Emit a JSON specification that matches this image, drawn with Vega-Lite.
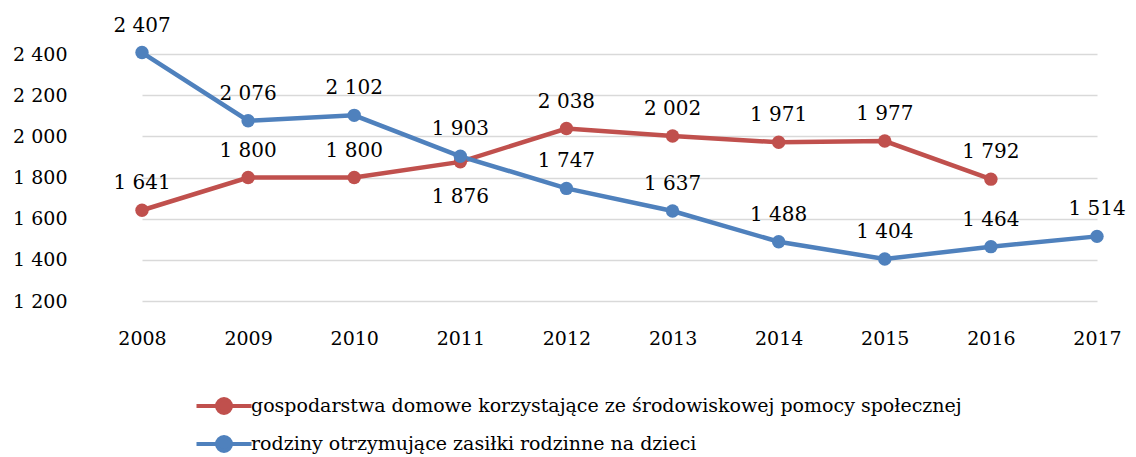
{
  "$schema": "https://vega.github.io/schema/vega-lite/v6.json",
  "width": 1047,
  "height": 247,
  "autosize": {"type": "none"},
  "padding": {"left": 89, "top": 54, "right": 0, "bottom": 156},
  "config": {
    "locale": {"number": {"decimal": ",", "thousands": " ", "grouping": [3], "currency": ["", " zł"]}},
    "view": {"stroke": null},
    "font": "DejaVu Serif"
  },
  "data": {
    "values": [
      {"year": "2008", "series": "gospodarstwa domowe korzystające ze środowiskowej pomocy społecznej", "value": 1641},
      {"year": "2009", "series": "gospodarstwa domowe korzystające ze środowiskowej pomocy społecznej", "value": 1800},
      {"year": "2010", "series": "gospodarstwa domowe korzystające ze środowiskowej pomocy społecznej", "value": 1800},
      {"year": "2011", "series": "gospodarstwa domowe korzystające ze środowiskowej pomocy społecznej", "value": 1876},
      {"year": "2012", "series": "gospodarstwa domowe korzystające ze środowiskowej pomocy społecznej", "value": 2038},
      {"year": "2013", "series": "gospodarstwa domowe korzystające ze środowiskowej pomocy społecznej", "value": 2002},
      {"year": "2014", "series": "gospodarstwa domowe korzystające ze środowiskowej pomocy społecznej", "value": 1971},
      {"year": "2015", "series": "gospodarstwa domowe korzystające ze środowiskowej pomocy społecznej", "value": 1977},
      {"year": "2016", "series": "gospodarstwa domowe korzystające ze środowiskowej pomocy społecznej", "value": 1792},
      {"year": "2008", "series": "rodziny otrzymujące zasiłki rodzinne na dzieci", "value": 2407},
      {"year": "2009", "series": "rodziny otrzymujące zasiłki rodzinne na dzieci", "value": 2076},
      {"year": "2010", "series": "rodziny otrzymujące zasiłki rodzinne na dzieci", "value": 2102},
      {"year": "2011", "series": "rodziny otrzymujące zasiłki rodzinne na dzieci", "value": 1903},
      {"year": "2012", "series": "rodziny otrzymujące zasiłki rodzinne na dzieci", "value": 1747},
      {"year": "2013", "series": "rodziny otrzymujące zasiłki rodzinne na dzieci", "value": 1637},
      {"year": "2014", "series": "rodziny otrzymujące zasiłki rodzinne na dzieci", "value": 1488},
      {"year": "2015", "series": "rodziny otrzymujące zasiłki rodzinne na dzieci", "value": 1404},
      {"year": "2016", "series": "rodziny otrzymujące zasiłki rodzinne na dzieci", "value": 1464},
      {"year": "2017", "series": "rodziny otrzymujące zasiłki rodzinne na dzieci", "value": 1514}
    ]
  },
  "encoding": {
    "x": {
      "field": "year", "type": "ordinal",
      "scale": {"type": "point", "range": [53, 1008], "padding": 0},
      "axis": {"title": null, "labelAngle": 0, "ticks": false, "domain": false, "labelPadding": 28, "labelFontSize": 19, "labelColor": "#000000", "labelFont": "DejaVu Serif"}
    },
    "y": {
      "field": "value", "type": "quantitative",
      "scale": {"domain": [1200, 2400], "nice": false, "zero": false},
      "axis": {"title": null, "values": [1200, 1400, 1600, 1800, 2000, 2200, 2400], "format": ",d", "ticks": false, "domain": false, "labelPadding": 22, "labelFontSize": 19, "labelColor": "#000000", "labelFont": "DejaVu Serif", "gridColor": "#d9d9d9", "gridWidth": 1.3}
    },
    "color": {
      "field": "series", "type": "nominal",
      "scale": {
        "domain": ["gospodarstwa domowe korzystające ze środowiskowej pomocy społecznej", "rodziny otrzymujące zasiłki rodzinne na dzieci"],
        "range": ["#C0504D", "#4F81BD"]
      },
      "legend": {
        "title": null, "orient": "none", "legendX": 123, "legendY": 340, "direction": "vertical",
        "symbolType": "M-2.75,0H2.75M-0.7,0A0.7,0.7,0,1,0,0.7,0A0.7,0.7,0,1,0,-0.7,0Z",
        "symbolSize": 400, "symbolStrokeWidth": 4, "labelFontSize": 19, "labelFont": "DejaVu Serif", "labelColor": "#000000",
        "labelOffset": 15, "rowPadding": 8, "labelLimit": 1000,
        "encode": {"symbols": {"update": {"fill": {"scale": "color", "field": "value"}, "stroke": {"scale": "color", "field": "value"}, "opacity": {"value": 1}}}}
      }
    }
  },
  "layer": [
    {"mark": {"type": "line", "strokeWidth": 4.5}},
    {"mark": {"type": "point", "filled": true, "size": 180, "opacity": 1}},
    {
      "transform": [{"filter": "!(datum.year == '2011' && datum.value < 1890)"}],
      "mark": {"type": "text", "dy": -27, "fontSize": 20, "font": "DejaVu Serif", "baseline": "middle"},
      "encoding": {"text": {"field": "value", "type": "quantitative", "format": ",d"}, "color": {"value": "#000000"}}
    },
    {
      "transform": [{"filter": "datum.year == '2011' && datum.value < 1890"}],
      "mark": {"type": "text", "dy": 35, "fontSize": 20, "font": "DejaVu Serif", "baseline": "middle"},
      "encoding": {"text": {"field": "value", "type": "quantitative", "format": ",d"}, "color": {"value": "#000000"}}
    }
  ]
}
